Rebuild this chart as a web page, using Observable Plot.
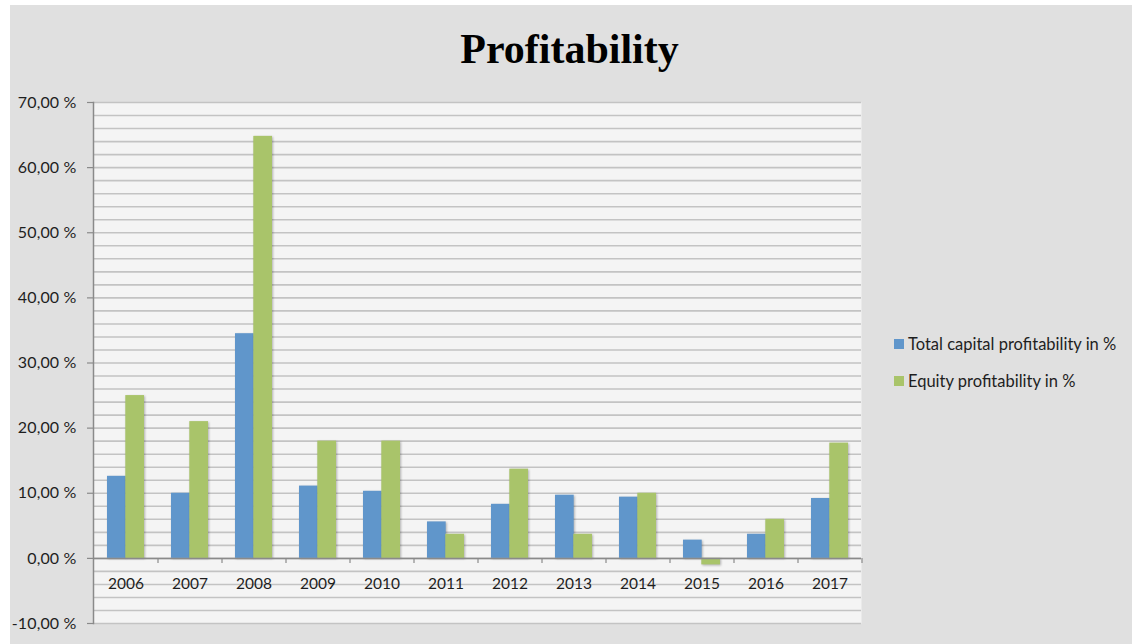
<!DOCTYPE html>
<html>
<head>
<meta charset="utf-8">
<script src="https://cdn.jsdelivr.net/npm/d3@7"></script>
<script src="https://cdn.jsdelivr.net/npm/@observablehq/plot@0.6"></script>
<style>
  html, body { margin: 0; padding: 0; background: #ffffff; }
  #wrap { position: relative; width: 1139px; height: 644px; overflow: hidden; background: #ffffff; }
  #bg { position: absolute; left: 10px; top: 5px; width: 1122px; height: 639px; background: #e0e0e0; }
  #title { position: absolute; left: 0; width: 1139px; top: 25px; text-align: center;
           font-family: "Liberation Serif", "Times New Roman", serif; font-weight: bold; font-size: 42px; color: #000; }
  #chart { position: absolute; left: 0; top: 0; }
  #legend { position: absolute; left: 894px; top: 334px; font-family: Lato, sans-serif; font-size: 16.5px; color: #1e1e1e; }
  .item { display: flex; align-items: center; height: 20px; margin-bottom: 17px; }
  .sw { width: 10px; height: 10px; margin-right: 4px; }
  .bars rect { filter: drop-shadow(1px 1.5px 1px rgba(0,0,0,0.28)); }
  .yax text { letter-spacing: 0.15px; }
</style>
</head>
<body>
<div id="wrap">
  <div id="bg"></div>
  <div id="title">Profitability</div>
  <div id="chart"></div>
  <div id="legend"></div>
</div>
<script>
const years = ["2006","2007","2008","2009","2010","2011","2012","2013","2014","2015","2016","2017"];
const totalCapital = [12.6, 10.0, 34.5, 11.1, 10.3, 5.6, 8.3, 9.7, 9.4, 2.8, 3.7, 9.2];
const equity = [25.0, 21.0, 64.8, 18.0, 18.0, 3.7, 13.7, 3.7, 10.0, -1.0, 6.0, 17.7];
const seriesNames = ["Total capital profitability in %", "Equity profitability in %"];
const colors = ["#6096cb", "#a9c46a"];
const yTicks = [-10, 0, 10, 20, 30, 40, 50, 60, 70];

const totalData = years.map((y, i) => ({year: y, value: totalCapital[i]}));
const equityData = years.map((y, i) => ({year: y, value: equity[i]}));

const fmt = d => d.toFixed(2).replace(".", ",") + " %";

const chart = Plot.plot({
  width: 1139,
  height: 644,
  marginLeft: 93,
  marginRight: 278,
  marginTop: 102,
  marginBottom: 21,
  style: {background: "transparent", fontFamily: "Lato, sans-serif", fontSize: "15px", color: "#1e1e1e"},
  x: {type: "band", domain: years, paddingInner: 0.427, paddingOuter: 0.2135, axis: null},
  y: {domain: [-10, 70], axis: null},
  marks: [
    Plot.frame({fill: "#f4f4f4", stroke: "none"}),
    Plot.gridY({ticks: 40, stroke: "#c3c3c3", strokeOpacity: 1, strokeWidth: 1.6}),
    Plot.axisY({ticks: yTicks, tickFormat: fmt, label: null, tickSize: 6, tickPadding: 11, stroke: "#8a8a8a", strokeWidth: 1.2, fill: "#1e1e1e", fontSize: 16, className: "yax"}),
    Plot.frame({anchor: "left", stroke: "#8a8a8a", strokeWidth: 1.5}),
    Plot.barY(totalData, {x: "year", y: "value", fill: colors[0], insetRight: 18.3, className: "bars"}),
    Plot.barY(equityData, {x: "year", y: "value", fill: colors[1], insetLeft: 18.3, className: "bars"}),
    Plot.ruleY([0], {stroke: "#8a8a8a", strokeWidth: 1.5}),
    Plot.ruleX(years, {x: d => d, y1: 0, y2: -0.8, dx: 32, stroke: "#8a8a8a", strokeWidth: 1.2}),
    Plot.text(years, {x: d => d, y: 0, dy: 26, text: d => d, fill: "#1e1e1e", fontSize: 15.5})
  ]
});
document.getElementById("chart").appendChild(chart);

const legend = document.getElementById("legend");
seriesNames.forEach((name, i) => {
  const row = document.createElement("div");
  row.className = "item";
  const sw = document.createElement("div");
  sw.className = "sw";
  sw.style.background = colors[i];
  const t = document.createElement("span");
  t.textContent = name;
  row.appendChild(sw);
  row.appendChild(t);
  legend.appendChild(row);
});
</script>
</body>
</html>
